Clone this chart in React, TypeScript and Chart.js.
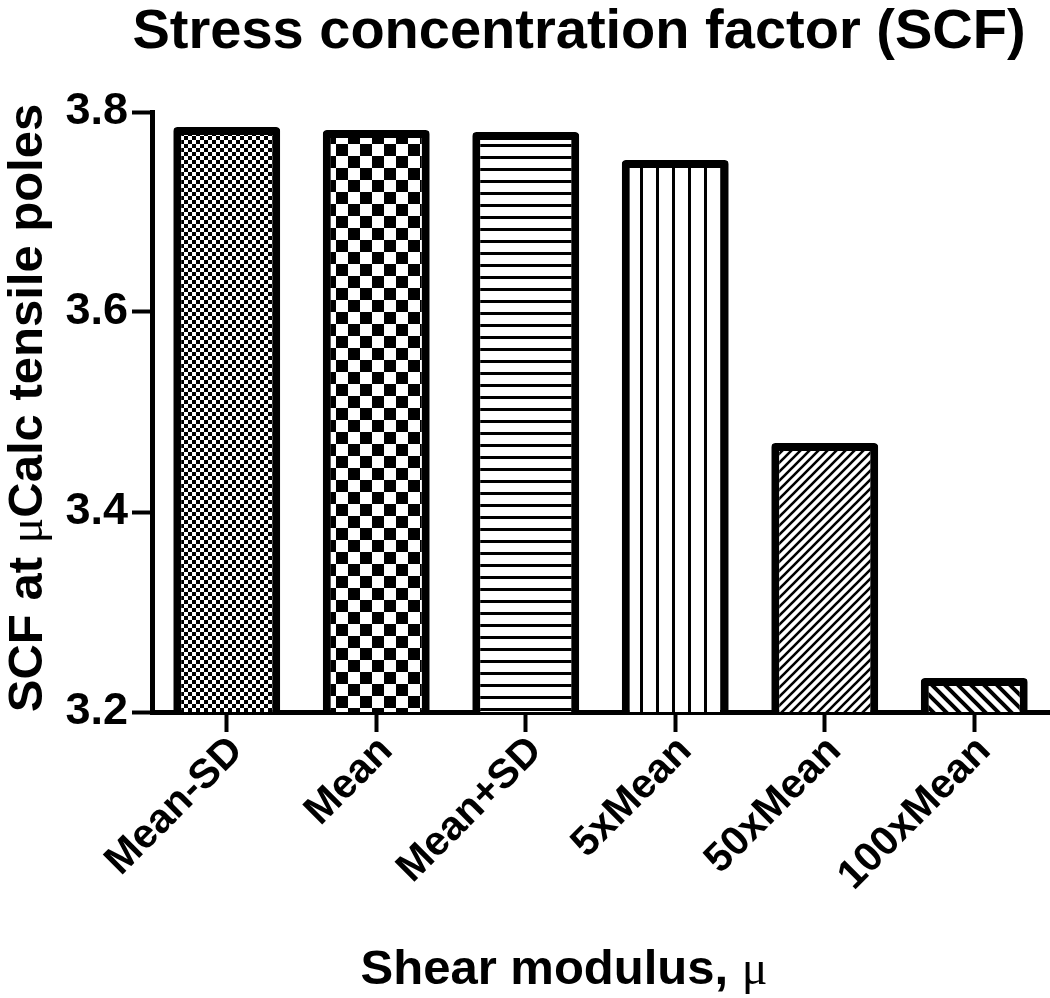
import React, { useEffect, useRef } from 'react';
import { Chart, registerables } from 'chart.js';

Chart.register(...registerables);

const categories = ['Mean-SD', 'Mean', 'Mean+SD', '5xMean', '50xMean', '100xMean'];
const scfValues = [3.785, 3.782, 3.78, 3.752, 3.469, 3.234];
const yTickValues = [3.2, 3.4, 3.6, 3.8];
const chartTitle = 'Stress concentration factor (SCF)';
const yTitleParts = ['SCF at ', 'μ', 'Calc tensile poles'];
const xTitleParts = ['Shear modulus, ', 'μ'];
const patternKinds = ['fineChecker', 'coarseChecker', 'hLines', 'vLines', 'diagUp', 'diagDown'];

const FAMILY = '"Liberation Sans", Arial, Helvetica, sans-serif';

function makePattern(kind: string): CanvasPattern | string {
  const c = document.createElement('canvas');
  const ctx = c.getContext('2d');
  if (!ctx) return '#fff';
  const setSize = (w: number, h: number) => {
    c.width = w;
    c.height = h;
    ctx.fillStyle = '#fff';
    ctx.fillRect(0, 0, w, h);
    ctx.fillStyle = '#000';
    ctx.strokeStyle = '#000';
  };
  if (kind === 'fineChecker') {
    setSize(8, 8);
    ctx.fillRect(0, 0, 4, 4);
    ctx.fillRect(4, 4, 4, 4);
  } else if (kind === 'coarseChecker') {
    setSize(24, 24);
    ctx.fillRect(0, 0, 12, 12);
    ctx.fillRect(12, 12, 12, 12);
  } else if (kind === 'hLines') {
    setSize(12, 12);
    ctx.fillRect(0, 0, 12, 3);
  } else if (kind === 'vLines') {
    setSize(16, 16);
    ctx.fillRect(0, 0, 3, 16);
  } else if (kind === 'diagUp') {
    const s = 9;
    setSize(s, s);
    ctx.lineWidth = 2.6;
    ctx.beginPath();
    ctx.moveTo(-2, 2); ctx.lineTo(2, -2);
    ctx.moveTo(0, s); ctx.lineTo(s, 0);
    ctx.moveTo(s - 2, s + 2); ctx.lineTo(s + 2, s - 2);
    ctx.stroke();
  } else if (kind === 'diagDown') {
    const s = 13;
    setSize(s, s);
    ctx.lineWidth = 4;
    ctx.beginPath();
    ctx.moveTo(0, 0); ctx.lineTo(s, s);
    ctx.moveTo(-3, s - 3); ctx.lineTo(3, s + 3);
    ctx.moveTo(s - 3, -3); ctx.lineTo(s + 3, 3);
    ctx.stroke();
  }
  const p = ctx.createPattern(c, 'repeat');
  return p || '#fff';
}

function drawParts(
  ctx: CanvasRenderingContext2D,
  parts: string[],
  fonts: string[],
  cx: number,
  baseline: number
) {
  const widths = parts.map((t, i) => {
    ctx.font = fonts[i];
    return ctx.measureText(t).width;
  });
  const total = widths.reduce((a, b) => a + b, 0);
  let x = cx - total / 2;
  ctx.textAlign = 'left';
  ctx.textBaseline = 'alphabetic';
  parts.forEach((t, i) => {
    ctx.font = fonts[i];
    ctx.fillText(t, x, baseline);
    x += widths[i];
  });
}

const titlesPlugin = {
  id: 'customTitles',
  afterDraw(chart: any) {
    const ctx: CanvasRenderingContext2D = chart.ctx;
    ctx.save();
    ctx.fillStyle = '#000';
    ctx.font = `bold 56px ${FAMILY}`;
    ctx.textAlign = 'center';
    ctx.textBaseline = 'alphabetic';
    ctx.fillText(chartTitle, 579, 48);
    const boldX = `bold 49px ${FAMILY}`;
    const muX = `48px "Liberation Serif", "DejaVu Serif", serif`;
    drawParts(ctx, xTitleParts, [boldX, muX], 564, 984);
    ctx.translate(42, 408);
    ctx.rotate(-Math.PI / 2);
    const boldY = `bold 49px ${FAMILY}`;
    const muY = `48px "Liberation Serif", "DejaVu Serif", serif`;
    drawParts(ctx, yTitleParts, [boldY, muY, boldY], 0, 0);
    ctx.restore();
  },
};

export default function App() {
  const ref = useRef<HTMLCanvasElement | null>(null);

  useEffect(() => {
    document.body.style.margin = '0';
    const canvas = ref.current;
    if (!canvas) return;
    const patterns = patternKinds.map((k) => makePattern(k));
    const chart = new Chart(canvas, {
      type: 'bar',
      data: {
        labels: categories,
        datasets: [
          {
            label: 'SCF',
            data: scfValues,
            backgroundColor: patterns as any,
            borderColor: '#000',
            borderWidth: 8,
            borderRadius: 4,
            borderSkipped: 'start',
            categoryPercentage: 1,
            barPercentage: 0.715,
          },
        ],
      },
      options: {
        responsive: false,
        animation: false,
        devicePixelRatio: 1,
        layout: { padding: { top: 112, right: 1, left: 0, bottom: 0 } },
        plugins: {
          legend: { display: false },
          title: { display: false },
          tooltip: { enabled: false },
        },
        scales: {
          x: {
            offset: true,
            grid: {
              display: true,
              offset: false,
              drawOnChartArea: false,
              drawTicks: true,
              tickLength: 20,
              tickWidth: 4,
              tickColor: '#000',
              color: '#000',
            },
            border: { display: true, width: 5, color: '#000' },
            ticks: {
              color: '#000',
              font: { family: FAMILY, size: 41, weight: 'bold' },
              maxRotation: 45,
              minRotation: 45,
              autoSkip: false,
              padding: -5,
              labelOffset: 10,
            },
            afterFit(scale: any) {
              scale.height = 286;
            },
          },
          y: {
            min: 3.2,
            max: 3.8,
            grid: {
              display: true,
              drawOnChartArea: false,
              drawTicks: true,
              tickLength: 20,
              tickWidth: 4,
              tickColor: '#000',
              color: '#000',
            },
            border: { display: true, width: 5, color: '#000' },
            ticks: {
              color: '#000',
              font: { family: FAMILY, size: 45, weight: 'bold' },
              padding: 4,
              callback: (v: any) => Number(v).toFixed(1),
            },
            afterBuildTicks(scale: any) {
              scale.ticks = yTickValues.map((v) => ({ value: v }));
            },
            afterFit(scale: any) {
              scale.width = 152;
            },
          },
        },
      },
      plugins: [titlesPlugin],
    });
    return () => chart.destroy();
  }, []);

  return (
    <div style={{ width: 1050, height: 998 }}>
      <canvas ref={ref} width={1050} height={998} style={{ display: 'block' }} />
    </div>
  );
}
